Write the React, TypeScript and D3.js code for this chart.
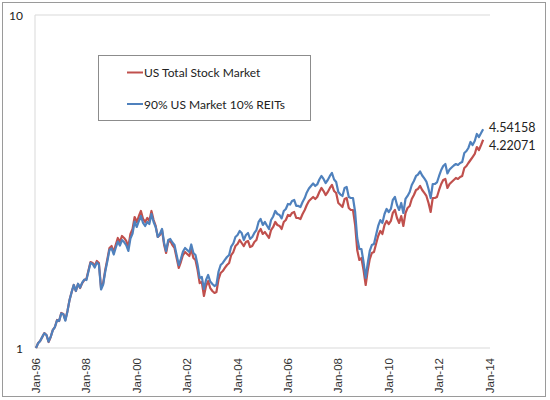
import React from "react";
import * as d3 from "d3";

const seriesNames = ["US Total Stock Market", "90% US Market 10% REITs"];
const seriesColors = ["#C0504D", "#4F81BD"];

// Monthly growth of $1, Jan-1996 .. Oct-2013
const totalStock = [
  1.000, 1.035, 1.050, 1.079, 1.109, 1.094, 1.042, 1.079, 1.133, 1.156, 1.214, 1.205,
  1.274, 1.265, 1.214, 1.292, 1.394, 1.473, 1.546, 1.483, 1.557, 1.514, 1.567, 1.600,
  1.611, 1.715, 1.812, 1.800, 1.763, 1.825, 1.800, 1.514, 1.567, 1.715, 1.850, 1.997,
  2.024, 1.942, 2.038, 2.140, 2.081, 2.170, 2.140, 2.096, 2.010, 2.200, 2.277, 2.474,
  2.390, 2.491, 2.579, 2.440, 2.390, 2.457, 2.407, 2.579, 2.423, 2.325, 2.155, 2.185,
  2.261, 2.038, 1.929, 2.081, 2.096, 2.038, 1.997, 1.863, 1.739, 1.812, 1.902, 1.942,
  1.916, 1.889, 1.983, 1.863, 1.838, 1.715, 1.567, 1.578, 1.433, 1.535, 1.589, 1.514,
  1.483, 1.463, 1.473, 1.611, 1.680, 1.703, 1.739, 1.775, 1.800, 1.902, 1.942, 2.024,
  2.053, 2.110, 2.067, 2.024, 2.081, 2.096, 2.010, 2.024, 2.081, 2.110, 2.230, 2.277,
  2.200, 2.230, 2.185, 2.140, 2.261, 2.309, 2.390, 2.341, 2.325, 2.277, 2.390, 2.423,
  2.509, 2.491, 2.544, 2.561, 2.457, 2.457, 2.440, 2.526, 2.597, 2.688, 2.764, 2.802,
  2.841, 2.802, 2.841, 2.941, 3.024, 2.961, 2.880, 2.941, 3.024, 3.087, 2.961, 2.921,
  2.726, 2.688, 2.651, 2.802, 2.821, 2.633, 2.597, 2.597, 2.341, 1.969, 1.838, 1.863,
  1.715, 1.546, 1.703, 1.850, 1.929, 1.942, 2.053, 2.170, 2.246, 2.200, 2.341, 2.407,
  2.357, 2.407, 2.544, 2.597, 2.457, 2.374, 2.491, 2.325, 2.544, 2.633, 2.670, 2.802,
  2.880, 2.982, 3.003, 3.066, 2.982, 2.921, 2.861, 2.726, 2.561, 2.821, 2.821, 2.841,
  2.982, 3.108, 3.195, 3.218, 3.024, 3.108, 3.152, 3.195, 3.240, 3.218, 3.262, 3.285,
  3.472, 3.520, 3.594, 3.669, 3.746, 3.825, 4.014, 3.932, 4.070, 4.22071,
];

const withReits = [
  1.000, 1.034, 1.050, 1.080, 1.107, 1.094, 1.045, 1.080, 1.131, 1.156, 1.210, 1.206,
  1.270, 1.262, 1.208, 1.288, 1.392, 1.472, 1.546, 1.484, 1.560, 1.518, 1.572, 1.606,
  1.600, 1.703, 1.800, 1.788, 1.745, 1.806, 1.781, 1.499, 1.551, 1.697, 1.825, 1.969,
  1.990, 1.909, 1.997, 2.088, 2.031, 2.110, 2.081, 2.038, 1.956, 2.132, 2.207, 2.398,
  2.309, 2.407, 2.491, 2.374, 2.325, 2.390, 2.357, 2.526, 2.390, 2.309, 2.155, 2.200,
  2.277, 2.067, 1.956, 2.110, 2.125, 2.074, 2.038, 1.902, 1.775, 1.850, 1.949, 1.997,
  1.969, 1.942, 2.046, 1.929, 1.902, 1.775, 1.623, 1.634, 1.504, 1.600, 1.657, 1.584,
  1.557, 1.535, 1.551, 1.697, 1.775, 1.800, 1.838, 1.876, 1.902, 2.017, 2.060, 2.155,
  2.185, 2.246, 2.215, 2.110, 2.185, 2.215, 2.125, 2.155, 2.215, 2.261, 2.390, 2.440,
  2.341, 2.390, 2.333, 2.277, 2.423, 2.483, 2.579, 2.526, 2.509, 2.449, 2.579, 2.615,
  2.707, 2.697, 2.764, 2.783, 2.670, 2.670, 2.651, 2.745, 2.821, 2.931, 3.013, 3.066,
  3.119, 3.066, 3.098, 3.206, 3.285, 3.218, 3.130, 3.195, 3.285, 3.354, 3.206, 3.152,
  2.941, 2.890, 2.861, 3.024, 3.045, 2.841, 2.821, 2.821, 2.561, 2.140, 1.983, 1.983,
  1.812, 1.623, 1.788, 1.956, 2.038, 2.053, 2.185, 2.325, 2.423, 2.374, 2.526, 2.615,
  2.561, 2.615, 2.783, 2.841, 2.688, 2.597, 2.726, 2.544, 2.802, 2.861, 2.941, 3.087,
  3.174, 3.285, 3.319, 3.389, 3.296, 3.229, 3.162, 3.003, 2.821, 3.108, 3.108, 3.141,
  3.285, 3.424, 3.520, 3.569, 3.342, 3.436, 3.484, 3.532, 3.569, 3.545, 3.594, 3.619,
  3.851, 3.905, 3.987, 4.156, 4.070, 4.185, 4.392, 4.302, 4.423, 4.54158,
];

const endLabels = ["4.22071", "4.54158"];
const tickYears = [1996, 1998, 2000, 2002, 2004, 2006, 2008, 2010, 2012, 2014];
const tickLabels = ["Jan-96", "Jan-98", "Jan-00", "Jan-02", "Jan-04", "Jan-06", "Jan-08", "Jan-10", "Jan-12", "Jan-14"];
const yTicks = [1, 10];
const yTickLabels = ["1", "10"];

const startDate = new Date(1996, 0, 1);
const endDate = new Date(2014, 0, 1);

export default function App() {
  const W = 550;
  const H = 400;
  const left = 35;
  const right = 490;
  const x = d3.scaleTime().domain([startDate, endDate]).range([36, 489.5]);
  const y = d3.scaleLog().domain([1, 10]).range([348, 15]);

  const dates = totalStock.map((_, i) => d3.timeMonth.offset(startDate, i));
  const line = d3
    .line<number>()
    .x((_, i) => x(dates[i]))
    .y((d) => y(d));

  const series = [totalStock, withReits];
  const labelFont = "Lato, 'Open Sans', sans-serif";

  return (
    <svg
      width={W}
      height={H}
      style={{ position: "absolute", left: 0, top: 0, background: "#fff" }}
    >
      <rect x={2.5} y={2.5} width={543} height={394} fill="#fff" stroke="#9a9a9a" strokeWidth={1} />
      <line x1={left} x2={right} y1={y(10)} y2={y(10)} stroke="#d9d9d9" strokeWidth={1} />
      <line x1={left} x2={left} y1={y(10)} y2={y(1)} stroke="#d9d9d9" strokeWidth={1} />
      <line x1={left} x2={right} y1={y(1)} y2={y(1)} stroke="#d9d9d9" strokeWidth={1} />

      {yTicks.map((t, i) => (
        <text
          key={t}
          x={23}
          y={y(t)}
          textAnchor="end"
          dominantBaseline="central"
          fontFamily={labelFont}
          fontSize={12}
          fill="#222"
        >
          {yTickLabels[i]}
        </text>
      ))}

      {tickYears.map((yr, i) => {
        const tx = x(new Date(yr, 0, 1));
        return (
          <text
            key={yr}
            transform={`translate(${tx},358) rotate(-90)`}
            textAnchor="end"
            dominantBaseline="central"
            fontFamily="'Liberation Sans', Arial, sans-serif"
            fontSize={11.5}
            fill="#333"
          >
            {tickLabels[i]}
          </text>
        );
      })}

      {series.map((s, i) => (
        <path
          key={i}
          d={line(s) || ""}
          fill="none"
          stroke={seriesColors[i]}
          strokeWidth={2.2}
          strokeLinejoin="round"
        />
      ))}

      {series.map((s, i) => (
        <text
          key={"e" + i}
          x={489}
          y={y(s[s.length - 1]) + (i === 0 ? 6 : -2)}
          dominantBaseline="central"
          fontFamily={labelFont}
          fontSize={12.5}
          fill="#222"
        >
          {endLabels[i]}
        </text>
      ))}

      <rect x={98.5} y={55.5} width={212} height={65} fill="#fff" stroke="#8c8c8c" strokeWidth={1} />
      {seriesNames.map((n, i) => (
        <g key={n} transform={`translate(0,${i === 0 ? 72.5 : 104})`}>
          <line x1={127} x2={143} y1={0} y2={0} stroke={seriesColors[i]} strokeWidth={2} />
          <text
            x={144}
            y={0}
            dominantBaseline="central"
            fontFamily={labelFont}
            fontSize={12}
            fill="#222"
          >
            {n}
          </text>
        </g>
      ))}
    </svg>
  );
}
